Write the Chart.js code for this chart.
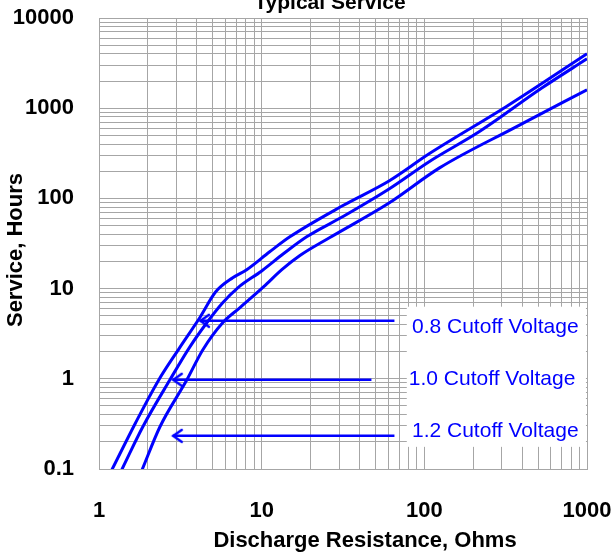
<!DOCTYPE html>
<html>
<head>
<meta charset="utf-8">
<script src="https://cdn.jsdelivr.net/npm/chart.js@4/dist/chart.umd.min.js"></script>
<style>
  html, body { margin: 0; padding: 0; background: #fff; }
</style>
</head>
<body>
<canvas id="chart" width="614" height="554"></canvas>
<script>
// service hours vs discharge resistance
var cutoffNames = ["0.8 Cutoff Voltage", "1.0 Cutoff Voltage", "1.2 Cutoff Voltage"];

var ohms08  = [1.2, 1.67, 2.32, 3.1, 4.16, 5.22, 6.64, 8.09, 11.2, 14.9, 31.4, 61, 107, 318, 1000];
var hours08 = [0.098, 0.32, 0.96, 2.15, 4.75, 9.22, 13.2, 16.2, 25.6, 37.5, 82.8, 157, 312, 1037, 4010];

var ohms10  = [1.38, 1.86, 2.73, 3.62, 4.6, 5.76, 7.13, 10.0, 13.6, 18.9, 31.4, 61, 107, 217, 530, 1000];
var hours10 = [0.098, 0.294, 0.975, 2.26, 4.18, 6.96, 10.2, 15.7, 24.3, 37.5, 62.5, 128, 255, 547, 1683, 3530];

var ohms12  = [1.84, 2.37, 3.47, 4.35, 5.76, 7.33, 10.3, 13.3, 17.1, 26.1, 61, 124, 357, 1000];
var hours12 = [0.098, 0.294, 0.975, 2.1, 4.18, 6.12, 10.5, 16.2, 23.1, 36.6, 89.4, 218, 606, 1600];

var xTickLabels = [1, 10, 100, 1000];
var yTickLabels = [0.1, 1, 10, 100, 1000, 10000];
var minorSteps = [1, 2, 3, 4, 5, 6, 7, 8, 9];

// pointer arrows: level (hours), tip and tail (ohms)
var arrowHours = [4.4, 0.975, 0.233];
var arrowTip = [4.17, 2.84, 2.84];
var arrowTail = [65.5, 47.3, 65.5];

// captions for the arrows
var captionOhms = [273, 261, 273];
var captionHours = [3.77, 1.0, 0.265];
var captionBox = { ohmsFrom: 78, ohmsTo: 985, hoursTop: 6.3, hoursBottom: 0.176 };

var blue = "#0000ff";
var gridGray = "#a6a6a6";
var fontFamily = "'Liberation Sans', Arial, sans-serif";

function gridValues(labels) {
    var out = [];
    for (var i = 0; i < labels.length - 1; i++) {
        minorSteps.forEach(function(k) { out.push(k * labels[i]); });
    }
    out.push(labels[labels.length - 1]);
    return out;
}

function isLabelled(list, v) {
    for (var i = 0; i < list.length; i++) {
        if (Math.abs(Math.log10(v) - Math.log10(list[i])) < 1e-6) return true;
    }
    return false;
}

function points(xs, ys) {
    return xs.map(function(x, i) { return { x: x, y: ys[i] }; });
}

// label overflow must not push the plot area in
function noOverflow(s) {
    s.paddingLeft = s.paddingRight = s.paddingTop = s.paddingBottom = 0;
}

// open "<" arrow head, tip at the centre of the little canvas
var head = document.createElement("canvas");
head.width = 24; head.height = 24;
(function() {
    var c = head.getContext("2d");
    c.strokeStyle = blue;
    c.lineWidth = 2.5;
    c.lineCap = "round";
    c.beginPath();
    c.moveTo(21, 6); c.lineTo(12.5, 12); c.lineTo(21, 18);
    c.stroke();
})();

var curveSets = [[ohms08, hours08], [ohms10, hours10], [ohms12, hours12]].map(function(s, i) {
    return {
        label: cutoffNames[i],
        data: points(s[0], s[1]),
        borderColor: blue,
        borderWidth: 3,
        pointRadius: 0,
        cubicInterpolationMode: "monotone",
        fill: false
    };
});

var arrowSets = arrowHours.map(function(h, i) {
    return {
        label: "arrow " + cutoffNames[i],
        data: [{ x: arrowTip[i], y: h }, { x: arrowTail[i], y: h }],
        borderColor: blue,
        borderWidth: 2.5,
        pointStyle: head,
        pointRadius: [6, 0],
        fill: false
    };
});

var captions = {
    id: "captions",
    beforeDatasetsDraw: function(chart) {
        var ctx = chart.ctx, x = chart.scales.x, y = chart.scales.y;
        var l = x.getPixelForValue(captionBox.ohmsFrom), r = x.getPixelForValue(captionBox.ohmsTo);
        var t = y.getPixelForValue(captionBox.hoursTop), b = y.getPixelForValue(captionBox.hoursBottom);
        ctx.save();
        ctx.fillStyle = "#fff";
        ctx.fillRect(l, t, r - l, b - t);
        ctx.fillStyle = blue;
        ctx.font = "21px " + fontFamily;
        ctx.textAlign = "center";
        ctx.textBaseline = "middle";
        cutoffNames.forEach(function(name, i) {
            ctx.fillText(name, x.getPixelForValue(captionOhms[i]), y.getPixelForValue(captionHours[i]));
        });
        ctx.restore();
    },
    afterDraw: function(chart) {
        var ctx = chart.ctx;
        ctx.save();
        ctx.fillStyle = "#000";
        ctx.font = "bold 21px " + fontFamily;
        ctx.textAlign = "center";
        ctx.textBaseline = "alphabetic";
        ctx.fillText("Typical Service", 330, 9);
        ctx.font = "bold 22px " + fontFamily;
        ctx.textBaseline = "middle";
        ctx.fillText("Discharge Resistance, Ohms", 365, 541);
        ctx.translate(16, 250);
        ctx.rotate(-Math.PI / 2);
        ctx.fillText("Service, Hours", 0, 0);
        ctx.restore();
    }
};

new Chart(document.getElementById("chart"), {
    type: "line",
    data: { datasets: curveSets.concat(arrowSets) },
    plugins: [captions],
    options: {
        responsive: false,
        animation: false,
        layout: { padding: { top: 18, right: 27, left: 0, bottom: 0 } },
        plugins: { legend: { display: false }, tooltip: { enabled: false } },
        scales: {
            x: {
                type: "logarithmic",
                min: 1, max: 1000,
                afterBuildTicks: function(s) {
                    s.ticks = gridValues(xTickLabels).map(function(v) { return { value: v }; });
                },
                afterFit: function(s) { s.height = 85; noOverflow(s); },
                grid: { color: gridGray, drawTicks: false },
                border: { color: gridGray },
                ticks: {
                    autoSkip: false, maxRotation: 0, padding: 29, color: "#000",
                    font: { family: fontFamily, size: 22, weight: "bold" },
                    callback: function(v) { return isLabelled(xTickLabels, v) ? String(Math.round(v)) : ""; }
                }
            },
            y: {
                type: "logarithmic",
                min: 0.1, max: 10000,
                afterBuildTicks: function(s) {
                    s.ticks = gridValues(yTickLabels).map(function(v) { return { value: v }; });
                },
                afterFit: function(s) { s.width = 99; noOverflow(s); },
                grid: { color: gridGray, drawTicks: false },
                border: { color: gridGray },
                ticks: {
                    autoSkip: false, padding: 25, color: "#000",
                    font: { family: fontFamily, size: 22, weight: "bold" },
                    callback: function(v) {
                        if (!isLabelled(yTickLabels, v)) return "";
                        return v < 1 ? "0.1" : String(Math.round(v));
                    }
                }
            }
        }
    }
});
</script>
</body>
</html>
